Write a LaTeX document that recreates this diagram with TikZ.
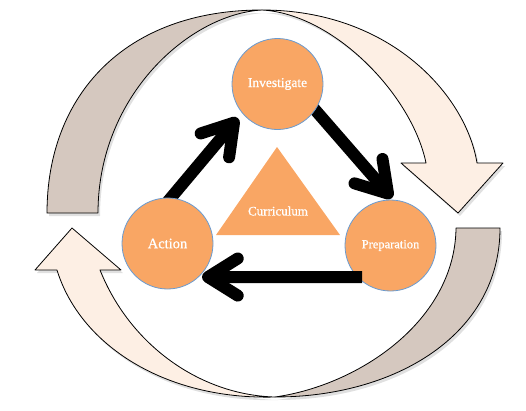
\documentclass[tikz,border=0pt]{standalone}
\usepackage{fontspec}
\setmainfont{Liberation Serif}
\newfontfamily\lblfont[FakeBold=0.8]{Liberation Serif}
\usetikzlibrary{calc}
\definecolor{bandDark}{HTML}{D5C8BF}
\definecolor{bandLight}{HTML}{FDEFE4}
\definecolor{orng}{HTML}{F9A664}
\definecolor{rimBlue}{HTML}{6A9BD0}
\begin{document}
\begin{tikzpicture}[x=1pt,y=-1pt,
  band/.style={draw=black, line width=0.8pt, line join=round},
  bandshadow/.style={fill=black, opacity=0.12, draw=none},
  stage/.style={circle, fill=orng, draw=rimBlue, line width=0.8pt,
    minimum size=91pt, inner sep=0pt, text=white},
  flow/.style={line width=12pt, draw=black},
  barb/.style={line width=12pt, draw=black, line cap=round, line join=round}]
\useasboundingbox (0,0) rectangle (526,410);

% ---- big curved arrows: shadows ----
\begin{scope}[shift={(2,3)}]
\path[bandshadow] (262,10) .. controls (125,10) and (47,95) .. (47,213) -- (98,213)
  .. controls (98,95) and (190,14) .. (262,10) -- cycle;
\path[bandshadow] (262,10) .. controls (390,10) and (466,95) .. (477,163) -- (503,163)
  -- (458,213) -- (401,163) -- (426,163) .. controls (412,95) and (334,14) .. (262,10) -- cycle;
\path[bandshadow] (500,228) .. controls (500,335) and (395,397) .. (275,397)
  .. controls (360,385) and (455,320) .. (456,228) -- cycle;
\path[bandshadow] (275,397) .. controls (165,400) and (80,345) .. (57,270) -- (35,270)
  -- (72,228) -- (121,270) -- (100,270) .. controls (130,345) and (200,395) .. (275,397) -- cycle;
\end{scope}

% ---- big curved arrows ----
\path[band, fill=bandDark] (262,10) .. controls (125,10) and (47,95) .. (47,213) -- (98,213)
  .. controls (98,95) and (190,14) .. (262,10) -- cycle;
\path[band, fill=bandLight] (262,10) .. controls (390,10) and (466,95) .. (477,163) -- (503,163)
  -- (458,213) -- (401,163) -- (426,163) .. controls (412,95) and (334,14) .. (262,10) -- cycle;
\path[band, fill=bandDark] (500,228) .. controls (500,335) and (395,397) .. (275,397)
  .. controls (360,385) and (455,320) .. (456,228) -- cycle;
\path[band, fill=bandLight] (275,397) .. controls (165,400) and (80,345) .. (57,270) -- (35,270)
  -- (72,228) -- (121,270) -- (100,270) .. controls (130,345) and (200,395) .. (275,397) -- cycle;

% ---- central triangle ----
\fill[orng] (277,147) -- (340,235) -- (216,235) -- cycle;
\node[text=white, font=\lblfont\fontsize{13}{15}\selectfont] (cur) at (278,211) {Curriculum};

% ---- stage centres ----
\coordinate (cinv) at (277.5,84);
\coordinate (cact) at (167.5,243.5);
\coordinate (cprep) at (390.5,245.5);

% arrow geometry
\coordinate (s1) at ($(cact)+(89.6:42pt)$);
\coordinate (a1) at ($(cinv)+(221.6:58.2pt)$);
\coordinate (s2) at ($(cinv)+(-33.2:42pt)$);
\coordinate (a2) at ($(cprep)+(92.75:52pt)$);
\coordinate (s3) at ($(cprep)+(227.9:42.5pt)$);
\coordinate (a3) at ($(cact)+(-39.6:52.6pt)$);

% arrows behind the circles
\draw[flow] (s1) -- (a1);
\draw[barb] ($(a1)!35pt!32:(s1)$) -- (a1) -- ($(a1)!35pt!-32:(s1)$);
\draw[flow] (s2) -- (a2);
\draw[barb] ($(a2)!35pt!32:(s2)$) -- (a2) -- ($(a2)!35pt!-32:(s2)$);

% ---- stages ----
\node[stage, font=\lblfont\fontsize{13.5}{15}\selectfont] (inv) at (cinv) {Investigate};
\node[stage, font=\lblfont\fontsize{14.5}{16}\selectfont] (act) at (cact) {Action};
\node[stage, font=\lblfont\fontsize{12.5}{14}\selectfont] (prep) at (cprep) {Preparation};

% arrow on top of the circles
\draw[flow] (s3) -- (a3);
\draw[barb] ($(a3)!35pt!32:(s3)$) -- (a3) -- ($(a3)!35pt!-32:(s3)$);
\end{tikzpicture}
\end{document}
